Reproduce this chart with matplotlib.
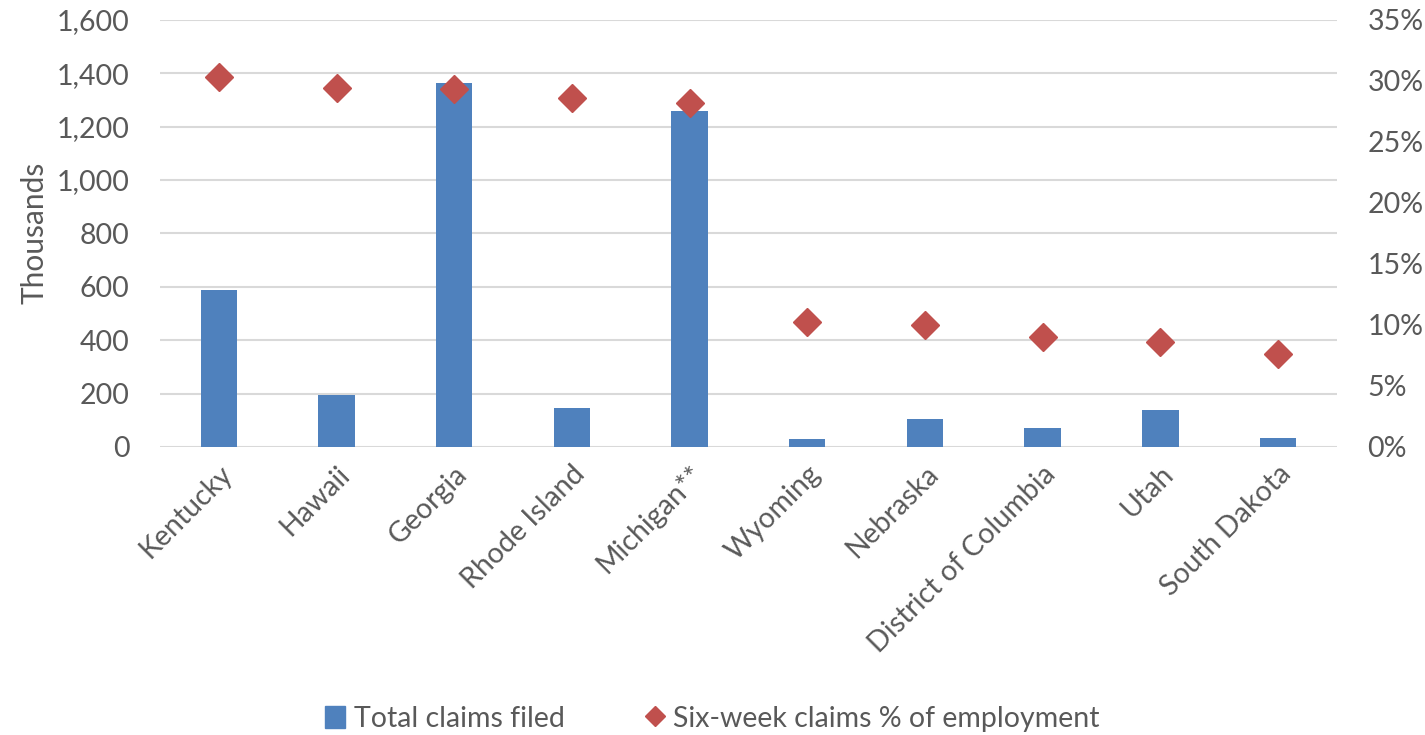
import matplotlib.pyplot as plt
from matplotlib.lines import Line2D
from matplotlib.patches import Patch
from matplotlib.ticker import FuncFormatter

plt.rcParams['font.family'] = ['Lato', 'DejaVu Sans']

states = ['Kentucky', 'Hawaii', 'Georgia', 'Rhode Island', 'Michigan**',
          'Wyoming', 'Nebraska', 'District of Columbia', 'Utah', 'South Dakota']
total_claims = [588, 194, 1364, 144, 1257, 29, 104, 71, 137, 32]
six_week_pct = [30.3, 29.45, 29.35, 28.6, 28.2, 10.27, 10.0, 9.04, 8.58, 7.6]

txt = '#595959'
bar_col = '#4F81BD'
dot_col = '#C0504D'
fs = 20.5

fig = plt.figure(figsize=(14.25, 7.35), dpi=100)
ax = fig.add_axes([0.1123, 0.392, 0.8258, 0.581])
ax2 = ax.twinx()

x = list(range(len(states)))
ax.bar(x, total_claims, width=0.31, color=bar_col, zorder=2)
ax2.plot(x, six_week_pct, linestyle='none', marker='D', markersize=14,
         color=dot_col, zorder=3)

ax.set_xlim(-0.5, len(states) - 0.5)
ax.set_ylim(0, 1600)
ax.set_yticks(range(0, 1601, 200))
ax.yaxis.set_major_formatter(FuncFormatter(lambda v, p: f'{int(v):,}'))
ax2.set_ylim(0, 35)
ax2.set_yticks(range(0, 36, 5))
ax2.yaxis.set_major_formatter(FuncFormatter(lambda v, p: f'{int(v)}%'))

ax.grid(axis='y', color='#D9D9D9', linewidth=1.5, zorder=0)
ax.set_axisbelow(True)
for a in (ax, ax2):
    for s in a.spines.values():
        s.set_visible(False)
    a.tick_params(length=0, labelsize=fs, labelcolor=txt)
ax.tick_params(axis='y', pad=22)
ax2.tick_params(axis='y', pad=22)

ax.set_xticks(x)
ax.set_xticklabels(states, rotation=45, ha='right', rotation_mode='anchor')
ax.tick_params(axis='x', pad=10)
ax.set_ylabel('Thousands', fontsize=fs + 1, color=txt, labelpad=6)

handles = [Patch(color=bar_col, label='Total claims filed'),
           Line2D([], [], linestyle='none', marker='D', markersize=10,
                  color=dot_col, label='Six-week claims % of employment')]
fig.legend(handles=handles, loc='center', bbox_to_anchor=(0.5, 0.022), ncol=2,
           frameon=False, fontsize=fs, labelcolor=txt, handlelength=0.7,
           handleheight=0.8, handletextpad=0.3, columnspacing=2.8)

plt.savefig('out.png', dpi=100)
